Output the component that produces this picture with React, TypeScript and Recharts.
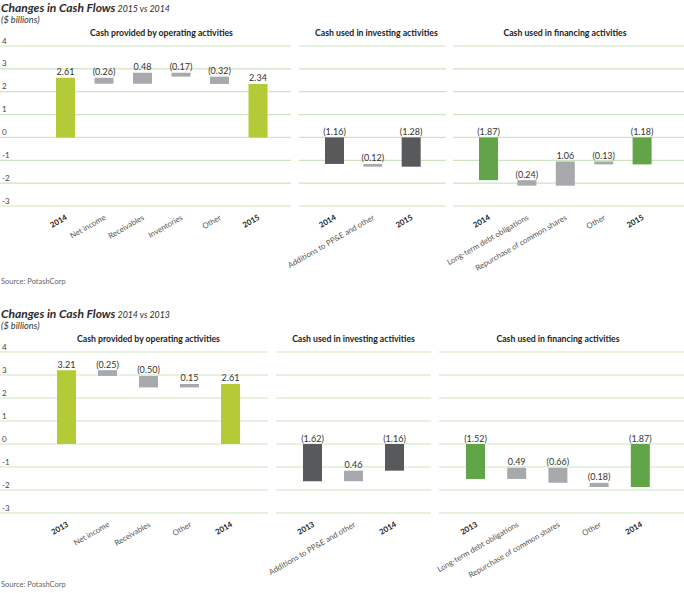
import { BarChart, Bar, XAxis, YAxis, ReferenceLine, LabelList, Cell } from "recharts"

const FONT = "Lato, 'Open Sans', sans-serif"
const GRID = "#cfe3c2"
const GRAY = "#a7a9ac"
const OP_GREEN = "#b5ca37"
const INV_DARK = "#58595b"
const FIN_GREEN = "#62a548"

const yTicks = [-3, -2, -1, 0, 1, 2, 3, 4]

// 2015 vs 2014
const op15Categories = ["2014", "Net income", "Receivables", "Inventories", "Other", "2015"]
const op15Values = [2.61, -0.26, 0.48, -0.17, -0.32, 2.34]
const inv15Categories = ["2014", "Additions to PP&E and other", "2015"]
const inv15Values = [-1.16, -0.12, -1.28]
const fin15Categories = ["2014", "Long-term debt obligations", "Repurchase of common shares", "Other", "2015"]
const fin15Values = [-1.87, -0.24, 1.06, -0.13, -1.18]

// 2014 vs 2013
const op14Categories = ["2013", "Net income", "Receivables", "Other", "2014"]
const op14Values = [3.21, -0.25, -0.5, 0.15, 2.61]
const inv14Categories = ["2013", "Additions to PP&E and other", "2014"]
const inv14Values = [-1.62, 0.46, -1.16]
const fin14Categories = ["2013", "Long-term debt obligations", "Repurchase of common shares", "Other", "2014"]
const fin14Values = [-1.52, 0.49, -0.66, -0.18, -1.87]

const fmt = (v: number) => (v < 0 ? `(${Math.abs(v).toFixed(2)})` : v.toFixed(2))

// first and last bars are totals from zero, the rest float on the running total
function waterfall(categories: string[], values: number[]) {
  let running = 0
  return categories.map((name, i) => {
    const v = values[i]
    const isTotal = i === 0 || i === categories.length - 1
    let start = 0
    let end = v
    if (!isTotal) {
      start = running
      end = running + v
    }
    running = end
    return {
      name,
      range: [Math.min(start, end), Math.max(start, end)],
      label: fmt(v),
      isTotal,
    }
  })
}

function CategoryTick(props: any) {
  const { x, y, payload } = props
  const bold = /^\d{4}$/.test(payload.value)
  return (
    <g transform={`translate(${x + 2.5},${y + 13}) rotate(-30)`}>
      <text
        x={0}
        y={0}
        textAnchor="end"
        fontSize={7.8}
        fontFamily={FONT}
        fontWeight={bold ? 700 : 400}
        fill={bold ? "#222" : "#555"}
      >
        {payload.value}
      </text>
    </g>
  )
}

function ValueTick(props: any) {
  const { y, payload } = props
  return (
    <text x={3} y={y - 2.5} fontSize={8} fontFamily={FONT} fill="#444" textAnchor="start">
      {payload.value}
    </text>
  )
}

const EmptyTick = () => <g />

interface WaterfallProps {
  categories: string[]
  values: number[]
  totalColor: string
  left: number
  top: number
  width: number
  marginTop: number
  plotHeight: number
  padLeft: number
  padRight: number
  showY?: boolean
}

function Waterfall({ categories, values, totalColor, left, top, width, marginTop, plotHeight, padLeft, padRight, showY }: WaterfallProps) {
  const height = 280
  const data = waterfall(categories, values)
  const margin = { top: marginTop, right: 0, bottom: 0, left: 0 }

  // same axes in both layers so the plot areas line up
  const axes = (back: boolean) => [
    <XAxis
      key="x"
      dataKey="name"
      interval={0}
      axisLine={false}
      tickLine={false}
      tickSize={0}
      tickMargin={0}
      height={height - marginTop - plotHeight}
      padding={{ left: padLeft, right: padRight }}
      tick={back ? <CategoryTick /> : <EmptyTick />}
    />,
    <YAxis
      key="y"
      type="number"
      domain={[-3, 4]}
      ticks={yTicks}
      interval={0}
      width={1}
      axisLine={false}
      tickLine={false}
      tick={back && showY ? <ValueTick /> : <EmptyTick />}
    />,
  ]

  // the y axis takes 1px, so the chart starts 1px further left
  return (
    <>
      {/* back layer: grid rows and tick labels (invisible bars keep the chart drawing) */}
      <div style={{ position: "absolute", left: left - 1, top }}>
        <BarChart width={width + 1} height={height} data={data} margin={margin}>
          {axes(true)}
          {yTicks.map((v) => (
            <ReferenceLine key={v} y={v} stroke={GRID} strokeWidth={1.2} />
          ))}
          <Bar dataKey="range" barSize={19} fill="#fff" fillOpacity={0} isAnimationActive={false} />
        </BarChart>
      </div>
      {/* front layer: bars drawn over the grid */}
      <div style={{ position: "absolute", left: left - 1, top }}>
        <BarChart width={width + 1} height={height} data={data} margin={margin}>
          {axes(false)}
          <Bar dataKey="range" barSize={19} isAnimationActive={false}>
            {data.map((d, i) => (
              <Cell key={i} fill={d.isTotal ? totalColor : GRAY} />
            ))}
            <LabelList dataKey="label" position="top" offset={2.5} fontSize={9} fill="#333" fontFamily={FONT} />
          </Bar>
        </BarChart>
      </div>
    </>
  )
}

function Heading({ top, period }: { top: number; period: string }) {
  return (
    <>
      <div style={{ position: "absolute", left: 1, top, lineHeight: "12px", color: "#2b2b2b", whiteSpace: "nowrap" }}>
        <span style={{ fontSize: 12, fontWeight: 700, fontStyle: "italic" }}>Changes in Cash Flows</span>
        <span style={{ fontSize: 8.8, fontStyle: "italic" }}> {period}</span>
      </div>
      <div style={{ position: "absolute", left: 1, top: top + 14, lineHeight: "11px", fontSize: 9.2, fontStyle: "italic", color: "#333" }}>
        ($ billions)
      </div>
    </>
  )
}

function SubTitle({ left, width, top, text }: { left: number; width: number; top: number; text: string }) {
  return (
    <div
      style={{
        position: "absolute",
        left,
        top,
        width,
        textAlign: "center",
        lineHeight: "12px",
        fontSize: 8.7,
        fontWeight: 700,
        color: "#222",
        whiteSpace: "nowrap",
      }}
    >
      {text}
    </div>
  )
}

function Source({ top }: { top: number }) {
  return (
    <div style={{ position: "absolute", left: 1, top, lineHeight: "10px", fontSize: 7.5, color: "#666" }}>
      Source: PotashCorp
    </div>
  )
}

export default function App() {
  return (
    <div style={{ position: "absolute", left: 0, top: 0, width: 684, height: 593, background: "#fff", fontFamily: FONT, overflow: "hidden" }}>
      <style>{`.recharts-surface, .recharts-wrapper { overflow: visible !important; }`}</style>
      <Heading top={0} period="2015 vs 2014" />
      <SubTitle left={46} width={231} top={27} text="Cash provided by operating activities" />
      <SubTitle left={315} width={115} top={27} text="Cash used in investing activities" />
      <SubTitle left={469} width={192} top={27} text="Cash used in financing activities" />
      <Waterfall categories={op15Categories} values={op15Values} totalColor={OP_GREEN} left={0} top={0} width={291} marginTop={46} plotHeight={160} padLeft={46} padRight={14} showY />
      <Waterfall categories={inv15Categories} values={inv15Values} totalColor={INV_DARK} left={299} top={0} width={147} marginTop={46} plotHeight={160} padLeft={16} padRight={16} />
      <Waterfall categories={fin15Categories} values={fin15Values} totalColor={FIN_GREEN} left={453} top={0} width={231} marginTop={46} plotHeight={160} padLeft={16} padRight={23} />
      <Source top={277} />

      <Heading top={306} period="2014 vs 2013" />
      <SubTitle left={46} width={205} top={333} text="Cash provided by operating activities" />
      <SubTitle left={292} width={123} top={333} text="Cash used in investing activities" />
      <SubTitle left={455} width={206} top={333} text="Cash used in financing activities" />
      <Waterfall categories={op14Categories} values={op14Values} totalColor={OP_GREEN} left={0} top={296} width={268} marginTop={56} plotHeight={161} padLeft={46} padRight={17} showY />
      <Waterfall categories={inv14Categories} values={inv14Values} totalColor={INV_DARK} left={276} top={296} width={155} marginTop={56} plotHeight={161} padLeft={16} padRight={16} />
      <Waterfall categories={fin14Categories} values={fin14Values} totalColor={FIN_GREEN} left={439} top={296} width={245} marginTop={56} plotHeight={161} padLeft={16} padRight={23} />
      <Source top={580} />
    </div>
  )
}
